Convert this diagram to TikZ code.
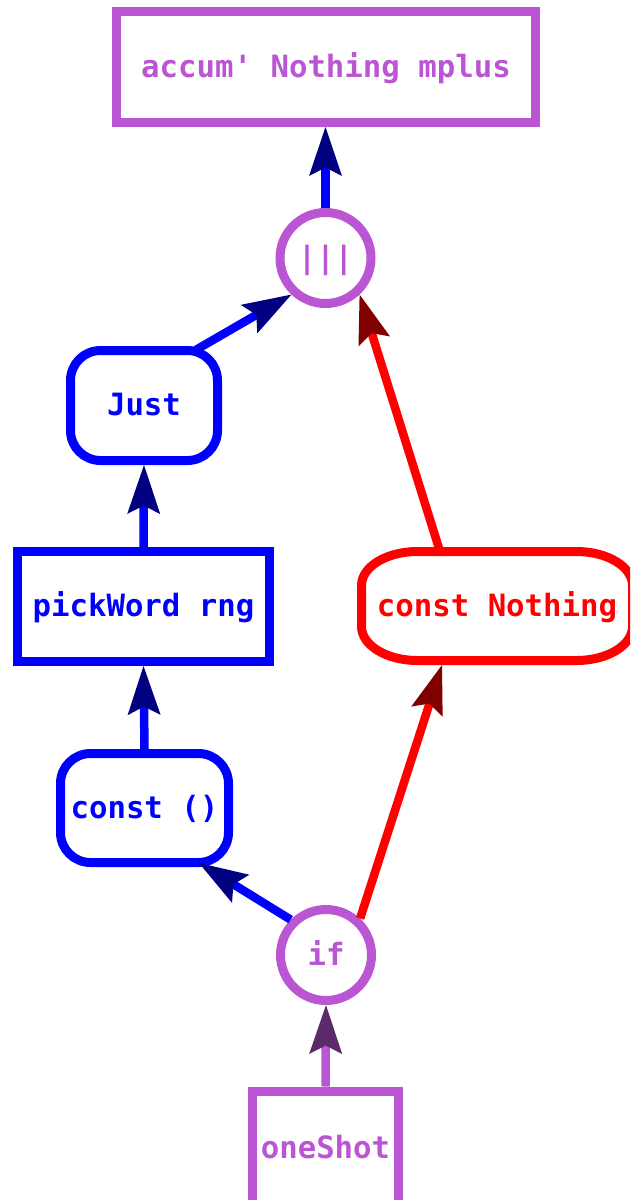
\documentclass[tikz,border=0pt]{standalone}
\usepackage{fontspec}
\setmonofont{DejaVu Sans Mono}
\usetikzlibrary{arrows.meta,calc}
\definecolor{orch}{RGB}{186,85,211}
\definecolor{orchd}{RGB}{93,42,105}
\definecolor{navyd}{RGB}{0,0,128}
\definecolor{redd}{RGB}{128,0,0}
\begin{document}
\begin{tikzpicture}[x=1pt,y=-1pt,
  nd/.style={draw, line width=9pt, inner sep=0pt, text height=24pt, text depth=4pt,
    font=\ttfamily\bfseries\fontsize{30.7}{36}\selectfont},
  sq/.style={nd, rectangle},
  rnd/.style={nd, rectangle, rounded corners=30pt},
  circ/.style={nd, circle, minimum size=91pt},
  edge/.style={line width=8.5pt},
  arrowc/.style={-{Stealth[length=49pt,width=33pt,inset=8.5pt,color=#1,line width=0pt]}},
]
\clip (0,0) rectangle (630,1200);
\path[use as bounding box] (0,0) rectangle (630,1200);

\node[sq, orch, minimum width=419pt, minimum height=111pt] (top) at (326,67) {accum' Nothing mplus};
\node[circ, orch] (or) at (325.5,258) {|||};
\node[rnd, blue, minimum width=147pt, minimum height=110pt] (just) at (144,405.5) {Just};
\node[sq, blue, minimum width=252pt, minimum height=110pt] (pw) at (143.5,606.5) {pickWord rng};
\node[nd, draw=none, red, outer sep=0pt, minimum width=271pt, minimum height=109pt] (cn) at (497,606) {const Nothing};
\node[rnd, blue, minimum width=168pt, minimum height=109pt] (c0) at (144.5,808) {const ()};
\node[circ, orch] (if) at (326,955) {if};
\node[sq, orch, text depth=10pt, minimum width=146pt, minimum height=120pt] (os) at (325.5,1151) {oneShot};

% elliptical-cornered border of "const Nothing"
\draw[red, line width=9pt]
 ([yshift=-34pt]cn.north west) .. controls ([yshift=-15.2pt]cn.north west) and ([xshift=25.1pt]cn.north west) .. ([xshift=56pt]cn.north west)
 -- ([xshift=-56pt]cn.north east) .. controls ([xshift=-25.1pt]cn.north east) and ([yshift=-15.2pt]cn.north east) .. ([yshift=-34pt]cn.north east)
 -- ([yshift=34pt]cn.south east) .. controls ([yshift=15.2pt]cn.south east) and ([xshift=-25.1pt]cn.south east) .. ([xshift=-56pt]cn.south east)
 -- ([xshift=56pt]cn.south west) .. controls ([xshift=25.1pt]cn.south west) and ([yshift=15.2pt]cn.south west) .. ([yshift=34pt]cn.south west)
 -- cycle;

\draw[edge, blue, arrowc=navyd] (or.north) -- (or.north |- top.south);
\draw[edge, blue, arrowc=navyd] ([yshift=-4pt]just.49) -- (or.227);
\draw[edge, red, arrowc=redd] ([xshift=-57pt]cn.north) -- (or.313);
\draw[edge, blue, arrowc=navyd] (pw.north) -- (just.south);
\draw[edge, blue, arrowc=navyd] (c0.north) -- (pw.south);
\draw[edge, blue, arrowc=navyd] (if.135) -- ([xshift=54.5pt,yshift=-55pt]c0.center);
\draw[edge, red, arrowc=redd] (if.47) -- ([xshift=-55pt,yshift=-4.5pt]cn.south);
\draw[edge, orch, arrowc=orchd] (os.north) -- (if.south);
\end{tikzpicture}
\end{document}
